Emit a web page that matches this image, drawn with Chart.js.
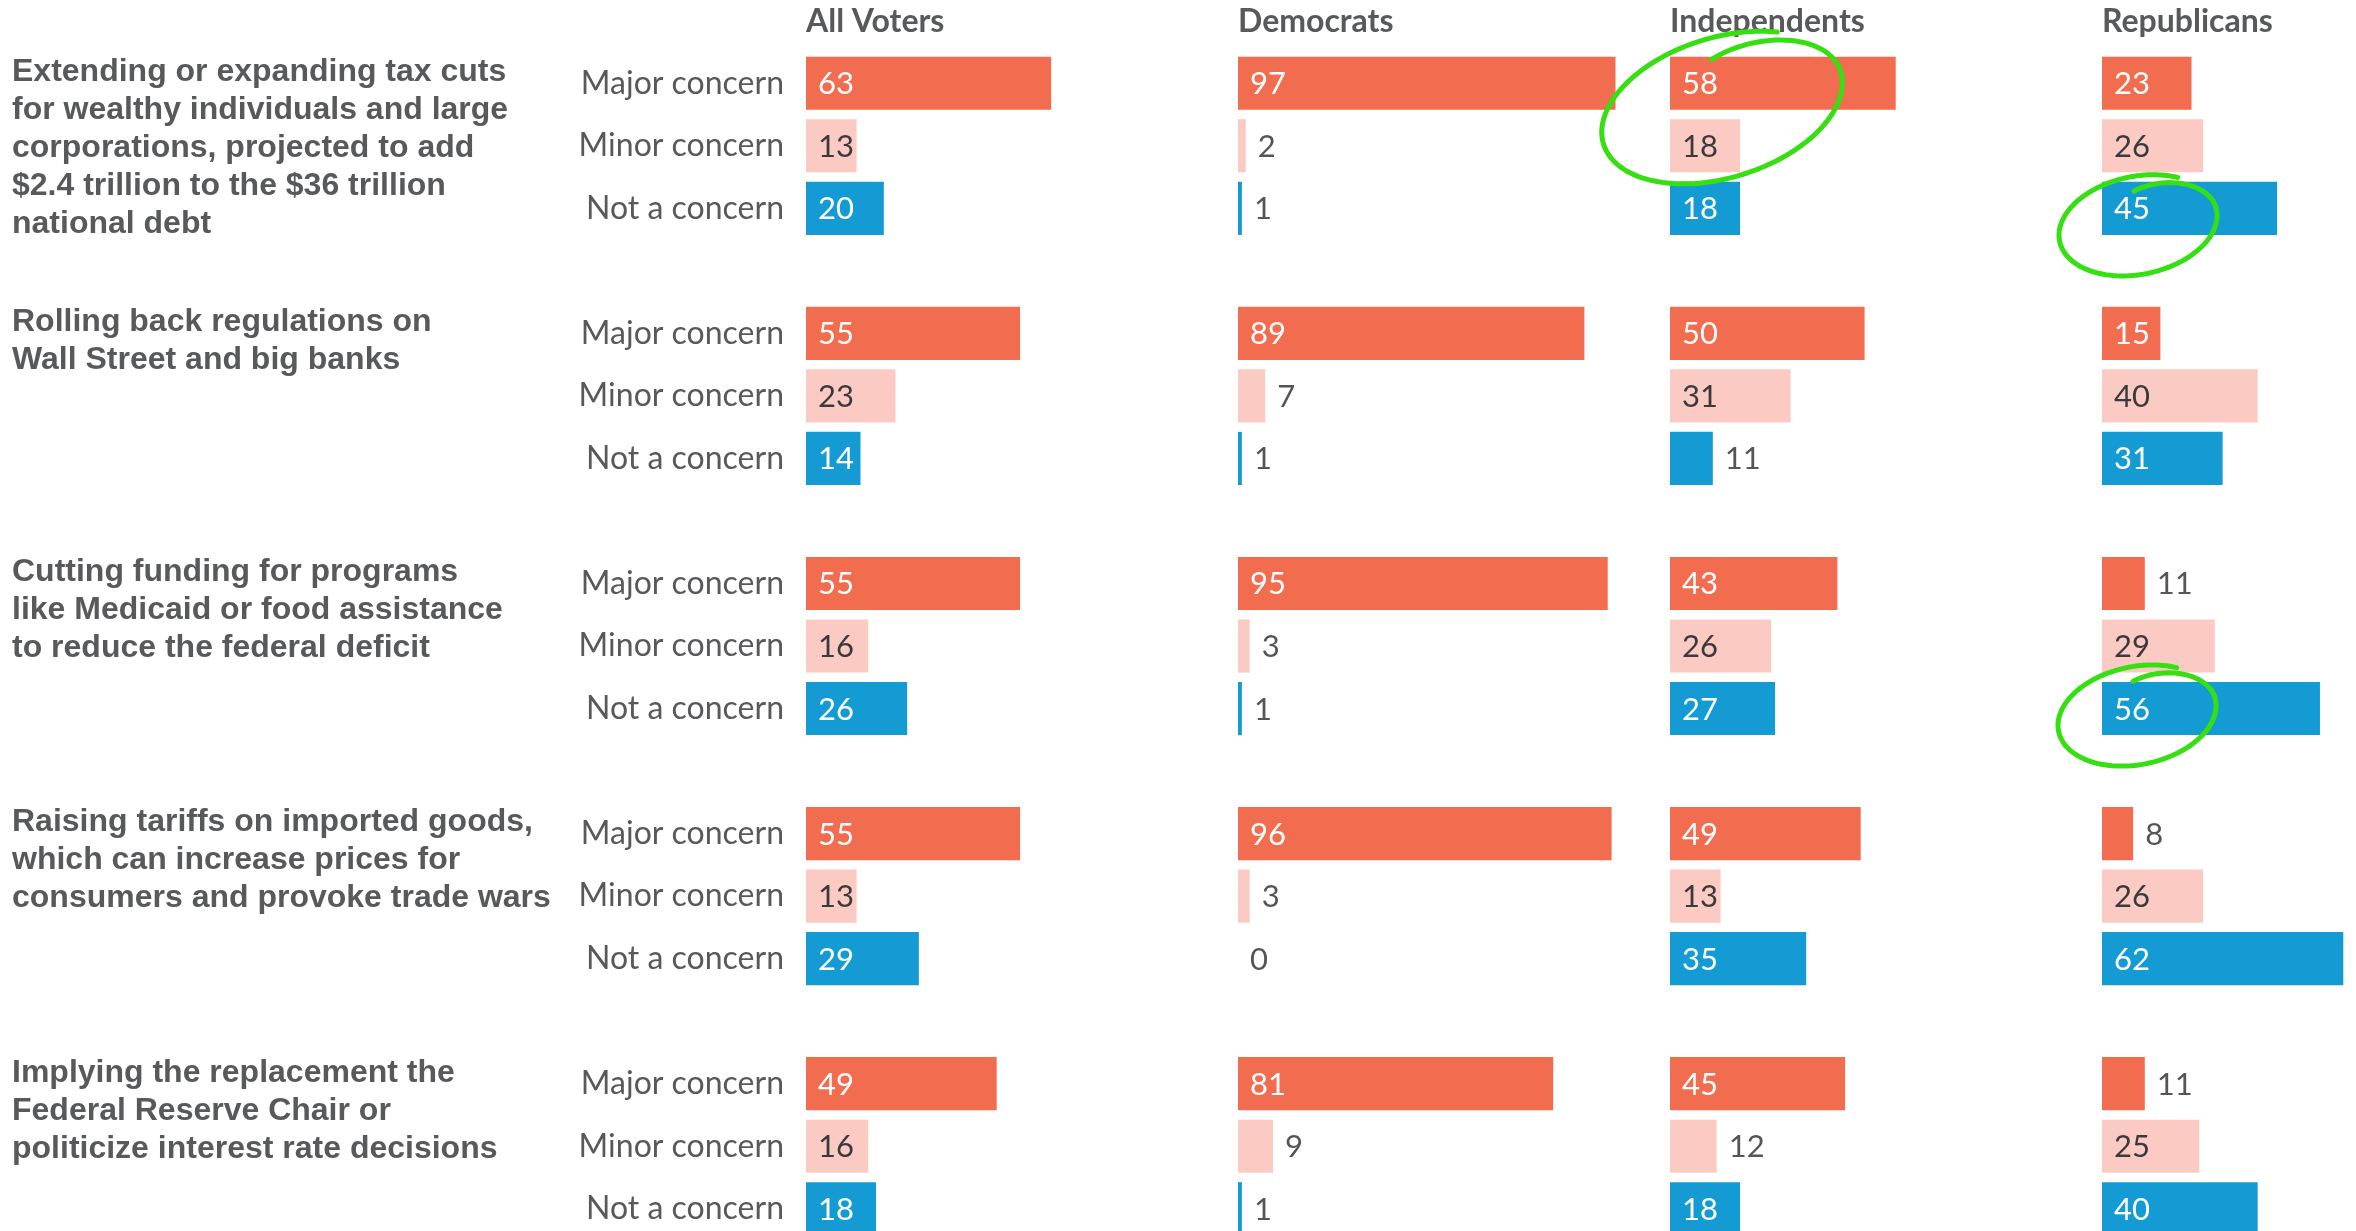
<!DOCTYPE html>
<html>
<head>
<meta charset="utf-8">
<title>Voter concerns</title>
<script src="https://cdn.jsdelivr.net/npm/chart.js@4.4.1/dist/chart.umd.min.js"></script>
<style>
html, body { margin: 0; padding: 0; background: #fff; overflow: hidden; width: 2356px; height: 1231px; }
canvas { position: absolute; top: 0; }
</style>
</head>
<body>
<canvas id="allVotersChart" width="1238" height="1240" style="left:0px"></canvas>
<canvas id="democratsChart" width="532" height="1240" style="left:1138px"></canvas>
<canvas id="independentsChart" width="532" height="1240" style="left:1570px"></canvas>
<canvas id="republicansChart" width="532" height="1240" style="left:2002px"></canvas>
<script>
// row labels and issue text
var rowLabels = ["Major concern", "Minor concern", "Not a concern"];
var issueLabels = [
    ["Extending or expanding tax cuts", "for wealthy individuals and large", "corporations, projected to add", "$2.4 trillion to the $36 trillion", "national debt"],
    ["Rolling back regulations on", "Wall Street and big banks"],
    ["Cutting funding for programs", "like Medicaid or food assistance", "to reduce the federal deficit"],
    ["Raising tariffs on imported goods,", "which can increase prices for", "consumers and provoke trade wars"],
    ["Implying the replacement the", "Federal Reserve Chair or", "politicize interest rate decisions"]
];
var groupNames = ["All Voters", "Democrats", "Independents", "Republicans"];

// [major, minor, not a concern] per issue
var allVoters    = [[63, 13, 20], [55, 23, 14], [55, 16, 26], [55, 13, 29], [49, 16, 18]];
var democrats    = [[97, 2, 1],   [89, 7, 1],   [95, 3, 1],   [96, 3, 0],   [81, 9, 1]];
var independents = [[58, 18, 18], [50, 31, 11], [43, 26, 27], [49, 13, 35], [45, 12, 18]];
var republicans  = [[23, 26, 45], [15, 40, 31], [11, 29, 56], [8, 26, 62],  [11, 25, 40]];

var xMax = 111;
var colors = ["#f26c4f", "#fbcbc3", "#159bd4"];
var greyText = "#58595b";

// categories: 3 rows per issue plus an empty spacer row between issues
var categories = [];
issueLabels.forEach(function(item, i) {
    rowLabels.forEach(function(r) { categories.push(r); });
    if (i < issueLabels.length - 1) categories.push("");
});

function flatten(groupData) {
    var out = [];
    groupData.forEach(function(triple, i) {
        triple.forEach(function(v) { out.push(v); });
        if (i < groupData.length - 1) out.push(null);
    });
    return out;
}

var valueLabelsPlugin = {
    id: "valueLabels",
    afterDatasetsDraw: function(chart) {
        var ctx = chart.ctx;
        var meta = chart.getDatasetMeta(0);
        var values = chart.data.datasets[0].data;
        ctx.save();
        ctx.font = "31px Lato";
        ctx.textBaseline = "middle";
        ctx.textAlign = "left";
        meta.data.forEach(function(bar, i) {
            var v = values[i];
            if (v === null || v === undefined) return;
            var kind = i % 4;
            var x;
            if (v >= 13) {
                ctx.fillStyle = kind === 1 ? "#3a3a3c" : "#ffffff";
                x = bar.base + 12;
            } else {
                ctx.fillStyle = "#555558";
                x = bar.x + 12;
            }
            ctx.fillText(String(v), x, bar.y + 1);
        });
        ctx.restore();
    }
};

var headerPlugin = {
    id: "groupHeader",
    afterDraw: function(chart, args, opts) {
        var ctx = chart.ctx;
        ctx.save();
        ctx.font = "bold 32px Lato";
        ctx.fillStyle = greyText;
        ctx.textBaseline = "middle";
        ctx.textAlign = "left";
        ctx.fillText(opts.text, chart.chartArea.left, 22);
        ctx.restore();
    }
};

var issuePlugin = {
    id: "issueText",
    afterDraw: function(chart, args, opts) {
        if (!opts.show) return;
        var ctx = chart.ctx;
        var meta = chart.getDatasetMeta(0);
        ctx.save();
        ctx.font = "bold 32px 'Liberation Sans'";
        ctx.fillStyle = greyText;
        ctx.textBaseline = "middle";
        ctx.textAlign = "left";
        issueLabels.forEach(function(lines, i) {
            var y0 = meta.data[i * 4].y - 11;
            lines.forEach(function(line, j) {
                ctx.fillText(line, 12, y0 + j * 38);
            });
        });
        ctx.restore();
    }
};

// hand drawn green loops around some bars
var loopPlugin = {
    id: "loops",
    afterDraw: function(chart, args, opts) {
        if (!opts.items) return;
        var ctx = chart.ctx;
        var meta = chart.getDatasetMeta(0);
        ctx.save();
        ctx.strokeStyle = "#36df12";
        ctx.lineWidth = 5;
        ctx.lineCap = "round";
        ctx.lineJoin = "round";
        opts.items.forEach(function(it) {
            var cy = (meta.data[it.from].y + meta.data[it.to].y) / 2 + it.dy;
            var cx = chart.chartArea.left + it.dx;
            var cos = Math.cos(it.rot), sin = Math.sin(it.rot);
            ctx.beginPath();
            var steps = 140;
            for (var s = 0; s <= steps; s++) {
                var t = s / steps;
                var ang = -Math.PI / 2 + 0.05 + t * (2 * Math.PI + 0.6);
                var k = 1 - 0.3 * Math.pow(1 - Math.min(t / 0.22, 1), 2);
                var ex = Math.cos(ang) * it.rx * k;
                var ey = Math.sin(ang) * it.ry * k;
                var px = cx + ex * cos - ey * sin;
                var py = cy + ex * sin + ey * cos;
                if (s === 0) ctx.moveTo(px, py); else ctx.lineTo(px, py);
            }
            ctx.stroke();
        });
        ctx.restore();
    }
};

function makeChart(canvasId, name, groupData, first, loops) {
    var values = flatten(groupData);
    return new Chart(document.getElementById(canvasId), {
        type: "bar",
        data: {
            labels: categories,
            datasets: [{
                data: values,
                backgroundColor: function(c) { return colors[c.dataIndex % 4] || "rgba(0,0,0,0)"; },
                borderWidth: 0,
                barPercentage: 0.85,
                categoryPercentage: 1.0
            }]
        },
        options: {
            indexAxis: "y",
            responsive: false,
            animation: false,
            layout: { padding: { top: 52, bottom: 0, left: first ? 0 : 100, right: 0 } },
            scales: {
                x: { display: false, min: 0, max: xMax },
                y: {
                    display: first,
                    grid: { display: false, drawTicks: false },
                    border: { display: false },
                    ticks: {
                        autoSkip: false,
                        padding: 22,
                        color: greyText,
                        font: { family: "Lato", size: 32 }
                    },
                    afterFit: function(scale) {
                        if (first) scale.width = 806;
                        scale.paddingTop = 0;
                        scale.paddingBottom = 0;
                    }
                }
            },
            plugins: {
                legend: { display: false },
                tooltip: { enabled: false },
                groupHeader: { text: name },
                issueText: { show: first },
                loops: { items: loops }
            }
        },
        plugins: [valueLabelsPlugin, headerPlugin, issuePlugin, loopPlugin]
    });
}

makeChart("allVotersChart", groupNames[0], allVoters, true, null);
makeChart("democratsChart", groupNames[1], democrats, false, null);
makeChart("independentsChart", groupNames[2], independents, false, [
    { from: 0, to: 1, dx: 52, dy: -7, rx: 124, ry: 70, rot: -0.3 }
]);
makeChart("republicansChart", groupNames[3], republicans, false, [
    { from: 2, to: 2, dx: 36, dy: 17, rx: 80, ry: 49, rot: -0.2 },
    { from: 10, to: 10, dx: 35, dy: 7, rx: 80, ry: 49, rot: -0.2 }
]);
</script>
</body>
</html>
